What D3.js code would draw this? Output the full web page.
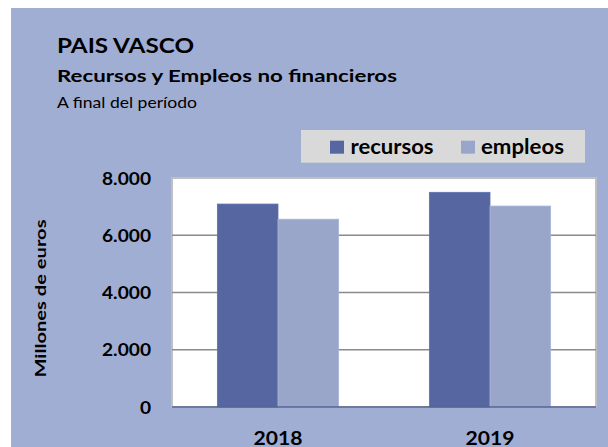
<!DOCTYPE html>
<html>
<head>
<meta charset="utf-8">
<script src="https://cdn.jsdelivr.net/npm/d3@7/dist/d3.min.js"></script>
<style>
  html, body { margin: 0; padding: 0; background: #ffffff; }
  svg { display: block; }
  text { font-family: Lato, "Open Sans", "Liberation Sans", sans-serif; fill: #000; }
</style>
</head>
<body>
<svg id="chart" width="608" height="447"></svg>
<script>
// Resources and uses, end of period (millions of euros)
const categories = ["2018", "2019"];
const seriesNames = ["recursos", "empleos"];
const recursos = [7090, 7500];
const empleos = [6560, 7020];
const yTicks = [0, 2000, 4000, 6000, 8000];

const colors = { recursos: "#5566a1", empleos: "#99a6ca" };

const svg = d3.select("#chart");
const W = 608, H = 447;

// give a text a fixed font size and squeeze/stretch it to a set width
function sizeText(sel, size, width) {
  sel.style("font-size", size + "px");
  if (width) sel.attr("textLength", width).attr("lengthAdjust", "spacingAndGlyphs");
  return sel;
}
// horizontal squeeze applied to every text of a selection, keeping their relative widths
function squeeze(sel, factor) {
  sel.each(function () {
    const w = this.getComputedTextLength();
    d3.select(this).attr("textLength", (w * factor).toFixed(2)).attr("lengthAdjust", "spacingAndGlyphs");
  });
}

// panel background
svg.append("rect").attr("x", 11).attr("y", 8).attr("width", W - 11).attr("height", H - 8)
  .attr("fill", "#a0aed4");

// titles
sizeText(svg.append("text").attr("x", 57).attr("y", 53)
  .style("font-weight", "bold").text("PAIS VASCO"), 21.5, 137);
sizeText(svg.append("text").attr("x", 57).attr("y", 82.3)
  .style("font-weight", "bold").text("Recursos y Empleos no financieros"), 16.3, 340);
sizeText(svg.append("text").attr("x", 57).attr("y", 108.3)
  .text("A final del período"), 16.2, 140);

// plot area
const plot = { left: 172, top: 178, right: 596, bottom: 407 };

const x0 = d3.scaleBand().domain(categories)
  .range([plot.left, plot.right]).paddingInner(0.428).paddingOuter(0.214);
const x1 = d3.scaleBand().domain(seriesNames).range([0, x0.bandwidth()]).padding(0);
const y = d3.scaleLinear().domain([0, 8000]).range([plot.bottom, plot.top]);

svg.append("rect")
  .attr("x", plot.left).attr("y", plot.top)
  .attr("width", plot.right - plot.left).attr("height", plot.bottom - plot.top)
  .attr("fill", "#ffffff").attr("stroke", "#c0c0c0").attr("stroke-width", 2);

// gridlines
svg.append("g").selectAll("line")
  .data(yTicks.filter(t => t > 0 && t < 8000))
  .join("line")
  .attr("x1", plot.left).attr("x2", plot.right)
  .attr("y1", d => y(d)).attr("y2", d => y(d))
  .attr("stroke", "#8a8a8a").attr("stroke-width", 1.5);

// bars
const rows = categories.map((c, i) => ({ cat: c, recursos: recursos[i], empleos: empleos[i] }));
const groups = svg.append("g").selectAll("g")
  .data(rows).join("g")
  .attr("transform", d => `translate(${x0(d.cat)},0)`);

groups.selectAll("rect")
  .data(d => seriesNames.map(k => ({ key: k, value: d[k] })))
  .join("rect")
  .attr("x", d => x1(d.key))
  .attr("y", d => y(d.value))
  .attr("width", x1.bandwidth())
  .attr("height", d => y(0) - y(d.value))
  .attr("fill", d => colors[d.key])
  .attr("stroke", d => d3.color(colors[d.key]).brighter(0.25))
  .attr("stroke-width", 0.8);

// baseline
svg.append("line")
  .attr("x1", plot.left).attr("x2", plot.right)
  .attr("y1", y(0)).attr("y2", y(0))
  .attr("stroke", "#55628f").attr("stroke-width", 1.5);

// y axis labels
const fmt = v => d3.format(",")(v).replace(/,/g, ".");
const yAxis = d3.axisLeft(y).tickValues(yTicks).tickFormat(fmt).tickSize(0).tickPadding(21);
const yg = svg.append("g").attr("transform", `translate(${plot.left},0)`).call(yAxis);
yg.select(".domain").remove();
yg.selectAll("text")
  .attr("dy", "0.36em")
  .style("font-size", "17.3px").style("font-weight", "bold")
  .style("font-family", "Lato, 'Open Sans', sans-serif").attr("fill", "#000");
const numFactor = 49 / yg.selectAll("text").filter(d => d === 8000).node().getComputedTextLength();
squeeze(yg.selectAll("text"), numFactor);

// x axis labels
const xAxis = d3.axisBottom(x0).tickSize(0).tickPadding(0);
const xg = svg.append("g").attr("transform", `translate(0,${plot.bottom})`).call(xAxis);
xg.select(".domain").remove();
xg.selectAll("text")
  .attr("y", 37.5).attr("dy", 0)
  .style("font-size", "18px").style("font-weight", "bold")
  .style("font-family", "Lato, 'Open Sans', sans-serif").attr("fill", "#000")
  .attr("textLength", 49).attr("lengthAdjust", "spacingAndGlyphs");

// y axis title
sizeText(svg.append("text")
  .attr("transform", `translate(45.5,${(plot.top + plot.bottom) / 2 + 6}) rotate(-90)`)
  .attr("text-anchor", "middle")
  .style("font-weight", "bold")
  .text("Millones de euros"), 14.5, 158);

// legend
const lg = svg.append("g");
lg.append("rect").attr("x", 301).attr("y", 130).attr("width", 284).attr("height", 32.7)
  .attr("fill", "#d9d9d9");
const legendItems = [
  { key: "recursos", sx: 330, tx: 350.5 },
  { key: "empleos", sx: 461, tx: 481 }
];
legendItems.forEach(it => {
  lg.append("rect").attr("x", it.sx).attr("y", 140.7).attr("width", 14).attr("height", 13)
    .attr("fill", colors[it.key]);
  sizeText(lg.append("text").attr("x", it.tx).attr("y", 153.7)
    .style("font-weight", "bold").text(it.key), 21, 83);
});
</script>
</body>
</html>
